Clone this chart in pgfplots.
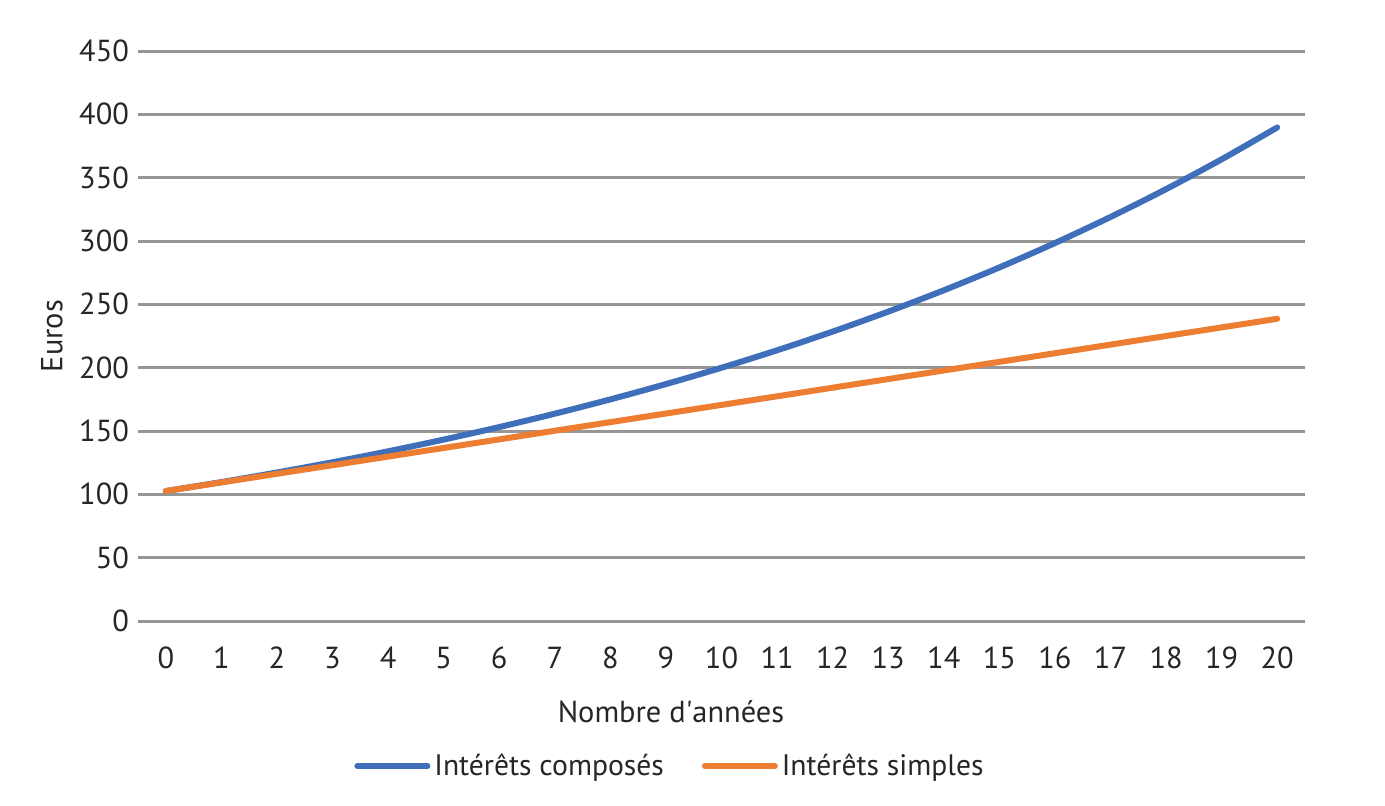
\documentclass[border=0pt]{standalone}
\usepackage{fontspec}
\setmainfont{PT Sans}
\usepackage{pgfplots}
\pgfplotsset{compat=1.18}
\definecolor{cblue}{HTML}{3F6FBA}
\definecolor{corange}{HTML}{ED7D31}
\definecolor{cgrid}{HTML}{969696}
\definecolor{ctext}{HTML}{262626}
\begin{document}
\begin{tikzpicture}
\path[use as bounding box] (-69pt,-92pt) rectangle (623.5pt,310.5pt);
\begin{axis}[
  at={(0,0)}, anchor=south west,
  scale only axis, width=583.5pt, height=285pt,
  xmin=-0.5, xmax=20.5, ymin=0, ymax=450,
  xtick={0,...,20}, ytick={0,50,...,450},
  axis line style={draw=none},
  major tick length=0pt,
  ymajorgrids, grid style={cgrid, line width=1.5pt},
  /pgf/number format/assume math mode=true,
  font=\fontsize{15.2}{18}\selectfont,
  tick label style={text=ctext},
  yticklabel style={xshift=-1pt},
  xticklabel style={yshift=-9.5pt},
  xlabel={Nombre d\textquotesingle années},
  ylabel={Euros},
  label style={text=ctext},
  xlabel style={at={(axis description cs:0.4567,-0.1596)}, anchor=center},
  ylabel style={at={(axis description cs:-0.0737,0.5)}, anchor=center},
  legend style={at={(axis description cs:0.4567,-0.2544)}, anchor=center, draw=none, legend columns=2, font=\fontsize{14.8}{18}\selectfont, text=ctext, /tikz/every even column/.append style={column sep=17pt}},
  legend image code/.code={\draw[#1, line cap=round] (0pt,0pt) -- (35pt,0pt);},
]
\addplot[cblue, line width=3pt, line cap=round, line join=round, smooth] coordinates {
(0,102.6) (1,109.68) (2,117.25) (3,125.34) (4,133.98) (5,143.23) (6,153.11) (7,163.67) (8,174.97) (9,187.04) (10,199.94) (11,213.74) (12,228.49) (13,244.25) (14,261.10) (15,279.12) (16,298.38) (17,318.96) (18,340.97) (19,364.50) (20,389.65)};
\addlegendentry{Intérêts composés}
\addplot[corange, line width=3pt, line cap=round, line join=round] coordinates {
(0,102.6) (1,109.4) (2,116.2) (3,123.0) (4,129.8) (5,136.6) (6,143.4) (7,150.2) (8,157.0) (9,163.8) (10,170.6) (11,177.4) (12,184.2) (13,191.0) (14,197.8) (15,204.6) (16,211.4) (17,218.2) (18,225.0) (19,231.8) (20,238.6)};
\addlegendentry{Intérêts simples}
\end{axis}
\end{tikzpicture}
\end{document}
